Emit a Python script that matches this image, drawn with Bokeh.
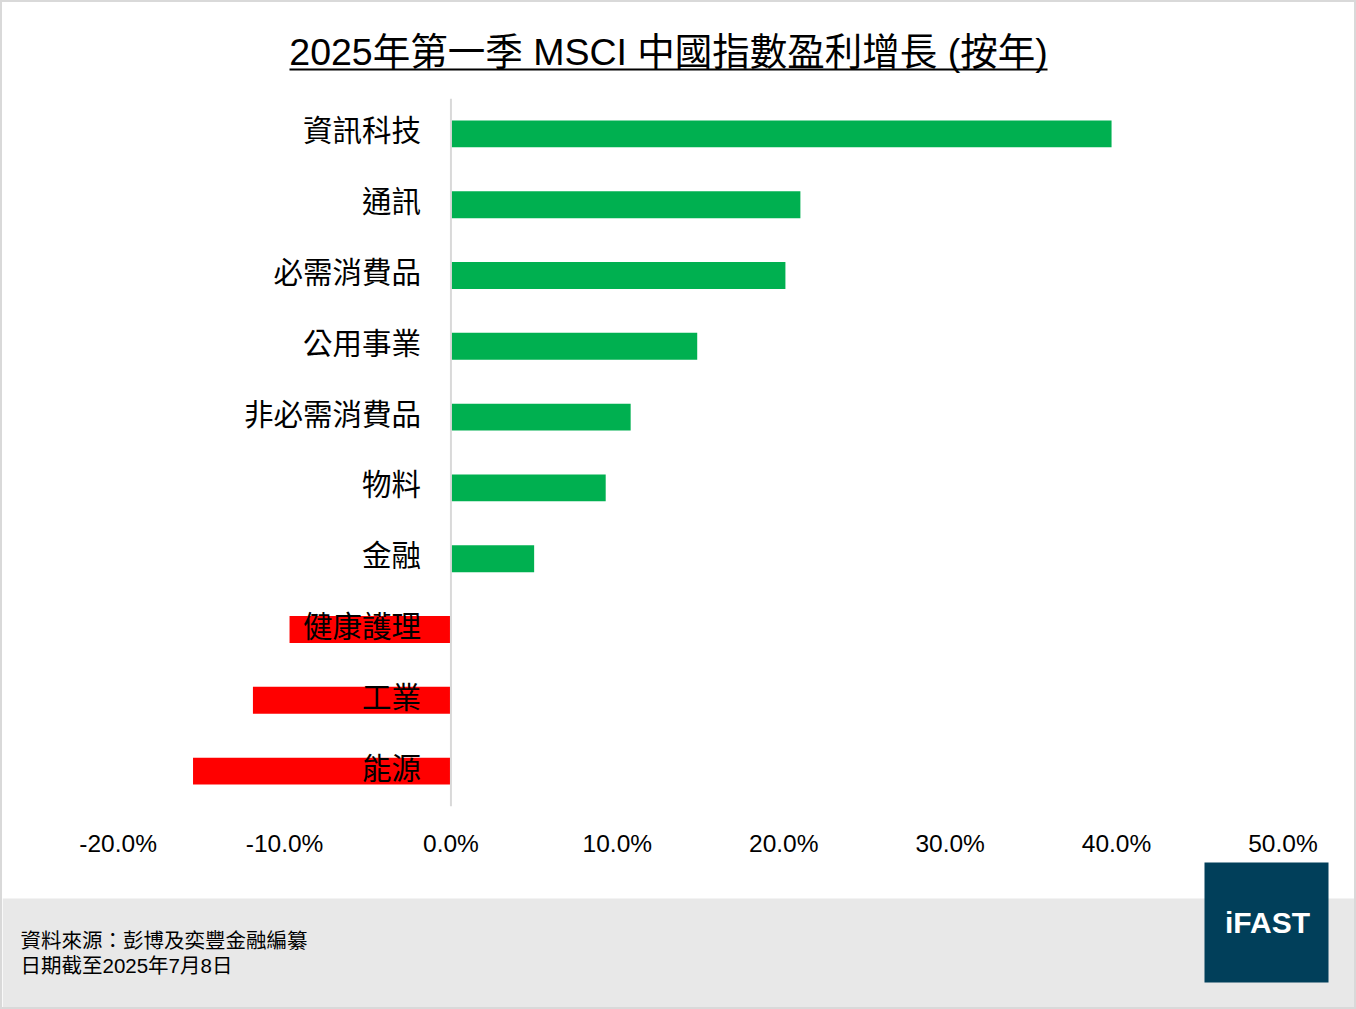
from bokeh.plotting import figure
from bokeh.layouts import column
from bokeh.models import Range1d, FactorRange, FixedTicker, Span, ColumnDataSource
from bokeh.core.properties import value
from bokeh.embed import file_html
from bokeh.resources import INLINE

# ---------------- data ----------------
categories = ["資訊科技", "通訊", "必需消費品", "公用事業", "非必需消費品",
              "物料", "金融", "健康護理", "工業", "能源"]
growth = [39.7, 21.0, 20.1, 14.8, 10.8, 9.3, 5.0, -9.7, -11.9, -15.5]
tick_values = [-20, -10, 0, 10, 20, 30, 40, 50]
tick_labels = ["-20.0%", "-10.0%", "0.0%", "10.0%", "20.0%", "30.0%", "40.0%", "50.0%"]
title_text = "2025年第一季 MSCI 中國指數盈利增長 (按年)"
source_lines = ["資料來源：彭博及奕豐金融編纂", "日期截至2025年7月8日"]
logo_text = "iFAST"

FONT = value("'Liberation Sans', 'Noto Sans CJK TC', sans-serif")
W = 1352
GREEN = "#00b050"
RED = "#ff0000"

def bare(fig):
    fig.axis.visible = False
    fig.grid.visible = False
    fig.outline_line_color = None
    fig.min_border = 0
    return fig

# ---------------- title ----------------
TH = 95
t = bare(figure(width=W, height=TH, x_range=Range1d(0, W), y_range=Range1d(TH, 0),
                output_backend="svg", toolbar_location=None))
t.text(x=[666], y=[49], text=[title_text], text_font=FONT, text_font_size="37.5px",
       text_color="black", text_align="center", text_baseline="middle")
t.segment(x0=[287], y0=[67], x1=[1045], y1=[67], line_color="black", line_width=2)

# ---------------- main chart ----------------
MH = 764
p = figure(width=W, height=MH, x_range=Range1d(-26.95, 54.30),
           y_range=FactorRange(factors=list(reversed(categories))),
           output_backend="svg", toolbar_location=None)
p.min_border_left = 0
p.min_border_right = 0
p.min_border_top = 1
p.min_border_bottom = 55
p.grid.visible = False
p.outline_line_color = None
p.yaxis.visible = False

src = ColumnDataSource(dict(cat=categories, val=growth, zero=[0] * len(growth),
                            color=[GREEN if v >= 0 else RED for v in growth]))
p.hbar(y="cat", left="zero", right="val", height=0.38, fill_color="color",
       line_color=None, source=src)
p.add_layout(Span(location=0, dimension="height", line_color="#d9d9d9", line_width=2))
p.text(x="zero", y="cat", text="cat", source=src, x_offset=-30, y_offset=-3,
       text_align="right", text_baseline="middle", text_font=FONT,
       text_font_size="29.5px", text_color="black")

ax = p.xaxis[0]
ax.ticker = FixedTicker(ticks=tick_values)
ax.major_label_overrides = {v: l for v, l in zip(tick_values, tick_labels)}
ax.axis_line_color = None
ax.major_tick_line_color = None
ax.minor_tick_line_color = None
ax.major_tick_out = 0
ax.major_label_standoff = 23
ax.major_label_text_font = "Liberation Sans"
ax.major_label_text_font_size = "24.5px"
ax.major_label_text_color = "black"

# ---------------- footer ----------------
FH = 146
f = bare(figure(width=W, height=FH, x_range=Range1d(0, W), y_range=Range1d(FH, 0),
                output_backend="svg", toolbar_location=None))
f.quad(left=[0], right=[W], top=[37], bottom=[FH], fill_color="#e8e8e8", line_color=None)
f.quad(left=[1202], right=[1326], top=[1], bottom=[121], fill_color="#013f5a", line_color=None)
f.text(x=[1265], y=[61], text=[logo_text], text_font=value("Liberation Sans"),
       text_font_size="30px", text_font_style="bold", text_color="white",
       text_align="center", text_baseline="middle")
f.text(x=[18, 18], y=[79, 104], text=source_lines, text_font=FONT, text_font_size="20.5px",
       text_color="black", text_align="left", text_baseline="middle")

layout = column(t, p, f, spacing=0, styles={"border": "2px solid #d9d9d9"})

open("out.html", "w").write(file_html(layout, INLINE))
